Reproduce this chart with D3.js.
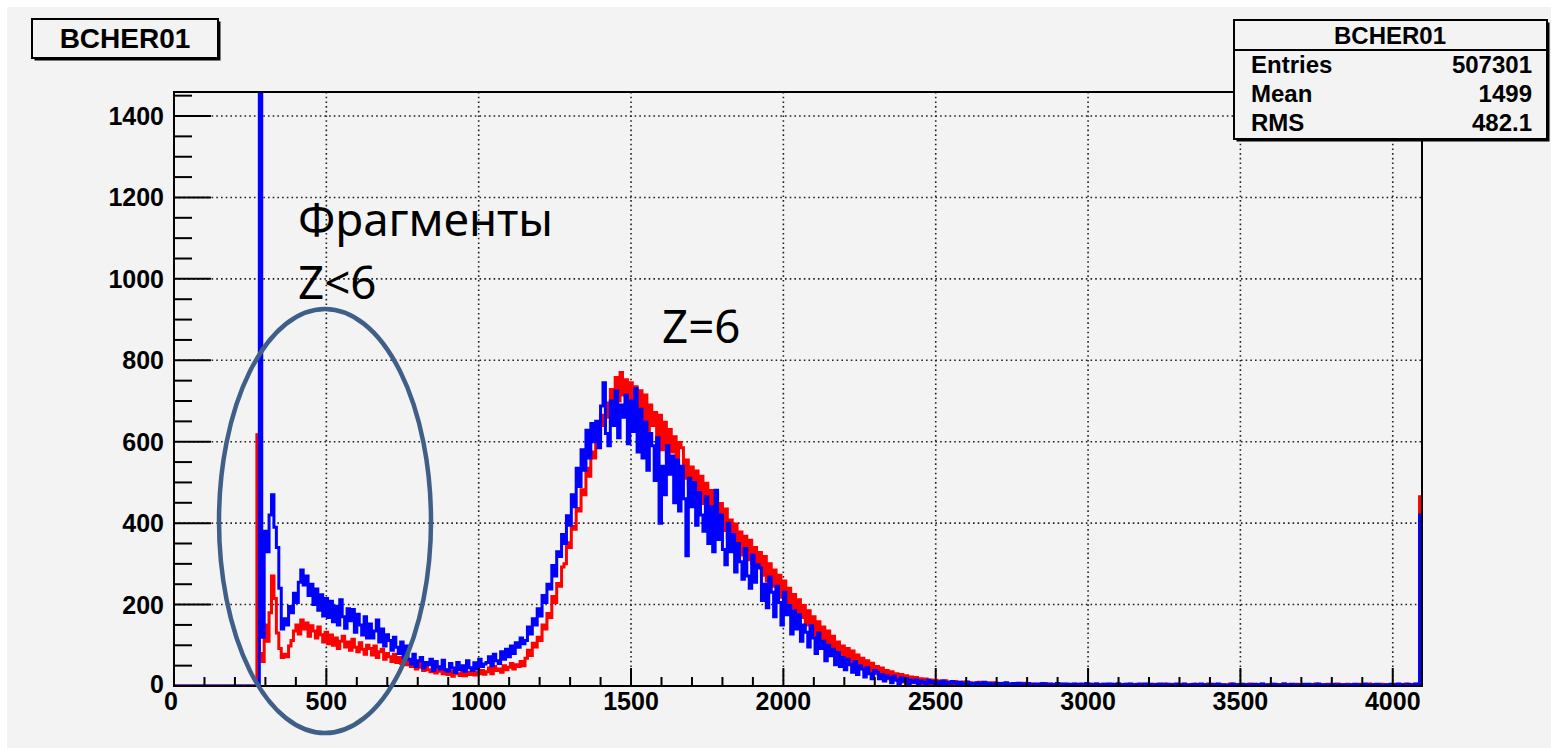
<!DOCTYPE html>
<html>
<head>
<meta charset="utf-8">
<script src="https://cdn.jsdelivr.net/npm/d3@7"></script>
<style>
  html, body { margin: 0; padding: 0; background: #fff; }
  svg { display: block; }
</style>
</head>
<body>
<div id="chart"></div>
<script>
// histogram BCHER01, 8-unit bins from 0 to 4096
const binWidth = 8;
const xMax = 4096;
const yMax = 1459;

const blueCounts = [
  0,0,0,0,0,0,0,0,0,0,0,0,0,0,0,0,
  0,0,0,0,0,0,0,0,0,0,0,0,0,0,0,0,
  0,0,0,2000,120,380,330,420,470,390,340,240,140,165,150,195,
  180,228,205,255,285,248,270,222,250,200,238,186,224,172,215,168,
  208,158,196,150,212,170,142,190,160,188,132,176,150,125,170,118,
  152,118,135,162,108,140,98,126,112,88,120,95,80,108,70,98,
  66,54,78,48,62,70,44,58,52,66,38,60,47,42,63,40,
  36,55,44,33,58,40,50,36,62,45,38,57,42,66,48,54,
  58,72,50,78,62,55,84,66,90,72,98,80,106,95,118,104,
  112,145,128,165,150,190,172,222,205,250,238,296,270,330,318,372,
  350,418,395,470,440,535,490,580,530,628,560,645,600,650,585,688,
  745,620,590,700,640,725,610,690,660,715,595,700,625,730,575,680,
  560,648,530,620,590,505,610,400,540,470,590,520,565,450,555,430,
  540,460,320,510,440,500,395,475,420,380,465,350,440,330,481,360,
  420,335,298,400,330,372,280,350,305,262,338,270,240,322,255,298,
  290,210,250,192,268,230,170,245,205,150,230,175,198,128,185,140,
  175,110,150,132,96,148,118,80,130,92,110,62,100,74,90,52,
  82,48,70,40,66,52,34,60,28,50,42,22,45,30,18,38,
  34,18,28,12,25,20,8,24,15,6,20,12,18,5,14,9,
  15,6,12,9,4,14,8,11,3,10,6,12,4,9,7,11,
  8,4,9,6,3,10,5,7,2,8,6,4,9,3,6,5,
  5,7,3,6,2,8,4,5,6,3,7,2,5,4,6,3,
  4,3,5,2,6,3,4,5,2,3,6,4,3,5,2,4,
  3,5,2,4,3,2,6,3,4,2,5,3,2,4,3,5,
  2,4,3,5,2,3,4,2,5,3,2,4,3,2,5,3,
  4,2,3,2,5,3,2,4,3,2,3,5,2,3,4,2,
  3,2,4,3,2,5,3,2,3,4,2,3,5,2,3,2,
  2,3,5,2,3,2,4,3,2,3,2,4,3,2,5,3,
  3,2,3,4,2,3,2,5,3,2,4,2,3,2,3,4,
  2,4,2,3,2,5,3,2,3,2,3,4,2,3,2,3,
  3,2,3,2,4,2,3,2,5,3,2,3,2,4,3,2,
  2,3,2,4,2,3,5,2,3,2,4,3,2,5,3,420
];

const redCounts = [
  0,0,0,0,0,0,0,0,0,0,0,0,0,0,0,0,
  0,0,0,0,0,0,0,0,0,0,0,0,0,0,0,0,
  0,0,617,80,60,150,110,180,270,215,130,92,70,78,72,98,
  112,135,150,128,162,140,155,122,148,135,118,145,126,108,132,104,
  125,100,118,92,110,122,96,108,88,115,95,84,106,90,78,100,
  92,76,98,70,84,90,66,80,72,60,78,58,70,55,66,52,
  62,48,58,42,55,46,38,52,40,35,48,32,44,36,30,40,
  28,36,24,40,30,26,38,25,34,28,42,27,33,30,38,29,
  35,44,30,48,38,42,34,50,40,46,55,42,52,48,60,50,
  68,88,75,105,96,120,112,150,140,178,168,220,205,252,245,292,
  300,352,340,392,385,436,430,482,470,535,515,575,560,615,610,665,
  640,695,660,728,690,758,700,770,715,752,690,745,680,735,665,725,
  650,715,625,690,640,672,598,665,580,648,560,630,575,612,530,598,
  585,510,555,492,538,478,528,465,515,448,498,430,480,415,468,400,
  448,382,435,365,408,350,398,338,378,322,368,310,358,300,340,292,
  328,272,318,258,300,245,285,232,272,218,258,205,240,192,225,178,
  212,168,198,150,185,138,170,122,158,110,145,100,135,90,122,80,
  108,72,98,64,92,58,86,52,76,45,68,40,62,34,56,30,
  48,26,44,22,38,18,35,15,30,12,28,10,25,9,22,8,
  21,7,18,6,17,5,15,4,14,4,12,3,13,5,10,4,
  11,3,9,4,10,2,8,5,7,3,9,2,6,4,8,3,
  8,3,6,2,7,4,5,2,6,3,5,2,7,3,4,2,
  5,2,3,4,2,6,3,2,4,3,2,5,3,2,4,3,
  2,4,3,2,5,3,2,4,2,3,5,2,3,4,2,3,
  4,2,3,5,2,3,2,4,3,2,3,2,5,3,2,4,
  3,2,4,2,3,2,5,3,2,4,2,3,2,3,5,2,
  2,3,2,4,3,2,3,2,5,2,3,4,2,3,2,3,
  3,5,2,3,2,4,2,3,2,5,3,2,3,2,4,2,
  2,3,4,2,3,2,3,5,2,3,2,3,4,2,3,2,
  3,2,3,2,5,3,2,3,2,4,3,2,3,5,2,3,
  2,4,2,3,2,3,4,2,3,2,5,3,2,3,2,4,
  3,2,3,2,4,2,3,2,3,5,2,3,2,4,2,465
];

const xMajorTicks = [0, 500, 1000, 1500, 2000, 2500, 3000, 3500, 4000];
const yMajorTicks = [0, 200, 400, 600, 800, 1000, 1200, 1400];
const histTitle = "BCHER01";
const statsLabels = ["Entries", "Mean", "RMS"];
const statsValues = ["507301", "1499", "482.1"];

const width = 1551, height = 748;
const frame = { left: 174, top: 92, right: 1422, bottom: 686 };
const bg = "#f3f3f3";
const boldFont = "'Liberation Sans', Arial, sans-serif";

const svg = d3.select("#chart").append("svg")
  .attr("width", width)
  .attr("height", height);

svg.append("rect").attr("width", width).attr("height", height).attr("fill", "#fff");
svg.append("rect").attr("x", 7).attr("y", 7)
  .attr("width", width - 7).attr("height", height - 7).attr("fill", bg);

const x = d3.scaleLinear().domain([0, xMax]).range([frame.left, frame.right]);
const y = d3.scaleLinear().domain([0, yMax]).range([frame.bottom, frame.top]);

// grid (dotted)
const grid = svg.append("g")
  .attr("stroke", "#222")
  .attr("stroke-width", 1.6)
  .attr("stroke-dasharray", "1.6,3.1");
grid.selectAll("line.gx")
  .data(xMajorTicks.filter(d => d > 0))
  .enter().append("line")
  .attr("x1", d => x(d)).attr("x2", d => x(d))
  .attr("y1", frame.top).attr("y2", frame.bottom);
grid.selectAll("line.gy")
  .data(yMajorTicks.filter(d => d > 0))
  .enter().append("line")
  .attr("x1", frame.left).attr("x2", frame.right)
  .attr("y1", d => y(d)).attr("y2", d => y(d));

// histograms
svg.append("clipPath").attr("id", "clip")
  .append("rect")
  .attr("x", frame.left).attr("y", frame.top)
  .attr("width", frame.right - frame.left)
  .attr("height", frame.bottom - frame.top);

function histPoints(counts) {
  const pts = counts.map((c, i) => [i * binWidth, c]);
  pts.push([counts.length * binWidth, counts[counts.length - 1]]);
  return pts;
}

const stepLine = d3.line()
  .x(d => x(Math.min(d[0], xMax)))
  .y(d => y(d[1]))
  .curve(d3.curveStepAfter);

const histG = svg.append("g").attr("clip-path", "url(#clip)");
histG.append("path")
  .datum(histPoints(redCounts))
  .attr("d", stepLine)
  .attr("fill", "none")
  .attr("stroke", "#ff0000")
  .attr("stroke-width", 3);
histG.append("path")
  .datum(histPoints(blueCounts))
  .attr("d", stepLine)
  .attr("fill", "none")
  .attr("stroke", "#0000ff")
  .attr("stroke-width", 3);

// ticks
const ticks = svg.append("g").attr("stroke", "#000").attr("stroke-width", 2);
const xMinor = d3.range(0, xMax + 1, 100);
ticks.selectAll("line.tx")
  .data(xMinor)
  .enter().append("line")
  .attr("x1", d => x(d)).attr("x2", d => x(d))
  .attr("y1", frame.bottom)
  .attr("y2", d => frame.bottom - (d % 500 === 0 ? 18 : 9));
const yMinor = d3.range(0, yMax, 50);
ticks.selectAll("line.ty")
  .data(yMinor)
  .enter().append("line")
  .attr("y1", d => y(d)).attr("y2", d => y(d))
  .attr("x1", frame.left)
  .attr("x2", d => frame.left + (d % 200 === 0 ? 37 : 18));

// frame
svg.append("rect")
  .attr("x", frame.left).attr("y", frame.top)
  .attr("width", frame.right - frame.left)
  .attr("height", frame.bottom - frame.top)
  .attr("fill", "none").attr("stroke", "#000").attr("stroke-width", 2);

// tick labels
svg.append("g").selectAll("text")
  .data(xMajorTicks)
  .enter().append("text")
  .attr("x", d => x(d) + (d === 0 ? -3 : 0))
  .attr("y", 710)
  .attr("text-anchor", "middle")
  .attr("font-family", boldFont).attr("font-weight", "bold")
  .attr("font-size", 25)
  .text(d => d);
svg.append("g").selectAll("text")
  .data(yMajorTicks)
  .enter().append("text")
  .attr("x", 164)
  .attr("y", d => y(d) + 9 - (d === 0 ? 2 : 0))
  .attr("text-anchor", "end")
  .attr("font-family", boldFont).attr("font-weight", "bold")
  .attr("font-size", 25)
  .text(d => d);

// title box
function shadowBox(x0, y0, w, h) {
  svg.append("rect").attr("x", x0 + 2.5).attr("y", y0 + 2.5)
    .attr("width", w).attr("height", h).attr("fill", "#000");
  svg.append("rect").attr("x", x0).attr("y", y0)
    .attr("width", w).attr("height", h)
    .attr("fill", bg).attr("stroke", "#000").attr("stroke-width", 2);
}
shadowBox(32, 19, 186, 39);
svg.append("text")
  .attr("x", 125).attr("y", 48)
  .attr("text-anchor", "middle")
  .attr("font-family", boldFont).attr("font-weight", "bold")
  .attr("font-size", 28)
  .text(histTitle);

// stats box
shadowBox(1234, 20, 313, 119);
svg.append("line")
  .attr("x1", 1234).attr("x2", 1547).attr("y1", 50).attr("y2", 50)
  .attr("stroke", "#000").attr("stroke-width", 2);
svg.append("text")
  .attr("x", 1390).attr("y", 44)
  .attr("text-anchor", "middle")
  .attr("font-family", boldFont).attr("font-weight", "bold")
  .attr("font-size", 24)
  .text(histTitle);
const rowY = [73, 102, 131];
statsLabels.forEach((lab, i) => {
  svg.append("text")
    .attr("x", 1251).attr("y", rowY[i])
    .attr("font-family", boldFont).attr("font-weight", "bold")
    .attr("font-size", 24)
    .text(lab);
  svg.append("text")
    .attr("x", 1532).attr("y", rowY[i])
    .attr("text-anchor", "end")
    .attr("font-family", boldFont).attr("font-weight", "bold")
    .attr("font-size", 24)
    .text(statsValues[i]);
});

// annotations
const annFont = "'Noto Sans', 'Open Sans', sans-serif";
const frag = svg.append("text")
  .attr("x", 298).attr("y", 236)
  .attr("font-family", annFont).attr("font-size", 44)
  .attr("fill", "#000")
  .text("Фрагменты");
const fragLen = frag.node().getComputedTextLength();
const annSize = 44 * 255 / fragLen;
frag.attr("font-size", annSize);
svg.append("text")
  .attr("x", 298).attr("y", 299)
  .attr("font-family", annFont).attr("font-size", annSize)
  .text("Z<6");
svg.append("text")
  .attr("x", 662).attr("y", 343)
  .attr("font-family", annFont).attr("font-size", annSize)
  .text("Z=6");

svg.append("ellipse")
  .attr("cx", 325).attr("cy", 521)
  .attr("rx", 106).attr("ry", 212)
  .attr("fill", "none")
  .attr("stroke", "#3f5f88")
  .attr("stroke-width", 4.5);
</script>
</body>
</html>
